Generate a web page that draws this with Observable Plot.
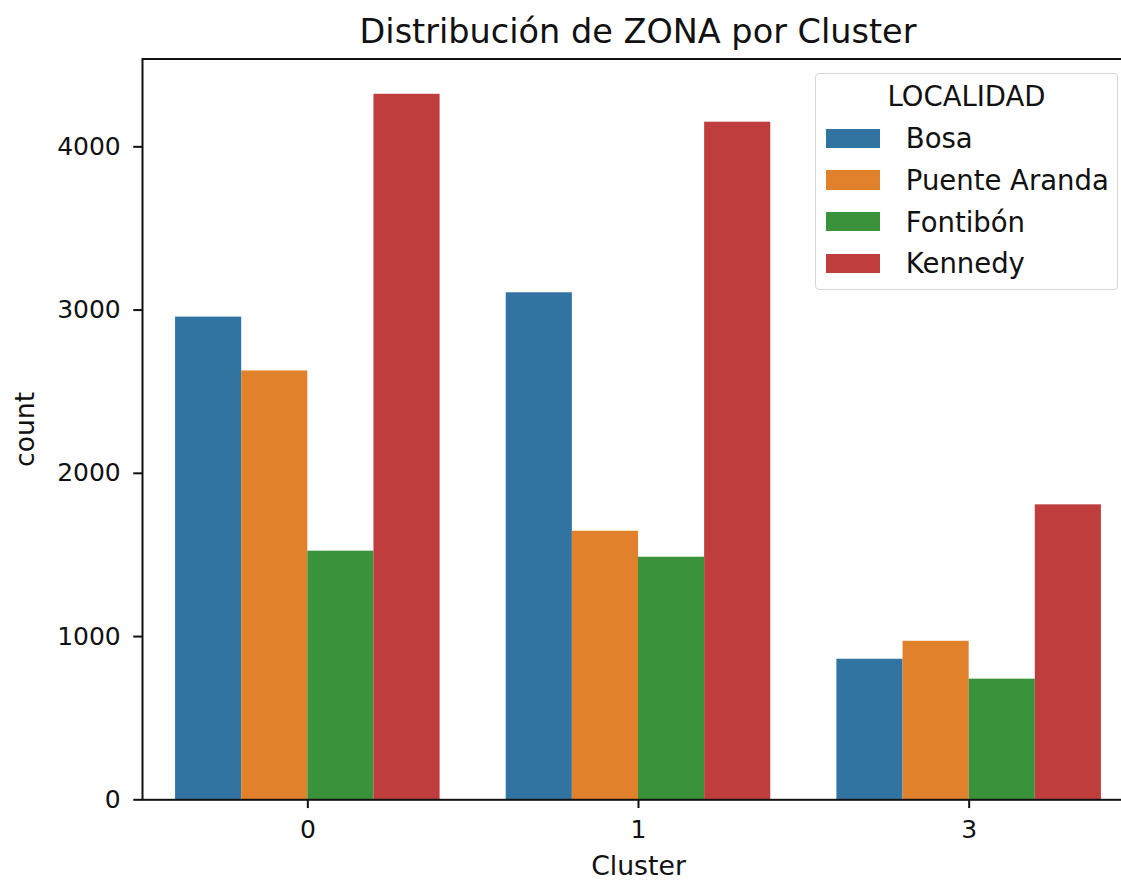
<!DOCTYPE html>
<html>
<head>
<meta charset="utf-8">
<script src="https://cdn.jsdelivr.net/npm/d3@7"></script>
<script src="https://cdn.jsdelivr.net/npm/@observablehq/plot@0.6"></script>
<style>
  html, body { margin: 0; padding: 0; background: #fff; overflow: hidden; }
  #wrap { position: relative; width: 1121px; height: 881px; overflow: hidden; font-family: "DejaVu Sans", sans-serif; color: #111; }
  #wrap svg { overflow: hidden; }
  #wrap g[aria-label="y-axis label"], #wrap g[aria-label="x-axis label"] { font-size: 26.7px; }
  #title { position: absolute; left: 0; top: 14.7px; width: 1276px; text-align: center; font-size: 33.5px; line-height: 33.5px; white-space: nowrap; }
  #legend { position: absolute; left: 815px; top: 72.7px; width: 301px; height: 215px; border: 1.5px solid #d6d6d6; border-radius: 4px; background: rgba(255,255,255,0.85); box-sizing: content-box; }
  #legend .ltitle { margin-top: 2px; height: 41.7px; line-height: 41.7px; text-align: center; font-size: 27.5px; }
  #legend .row { display: flex; align-items: center; height: 41.7px; font-size: 27.5px; white-space: nowrap; }
  #legend .sw { width: 54.3px; height: 19.4px; margin-left: 9.5px; margin-right: 26px; flex: none; }
</style>
</head>
<body>
<div id="wrap"></div>
<script>
// ---- data ----
const title = "Distribución de ZONA por Cluster";
const xLabel = "Cluster";
const yLabel = "count";
const legendTitle = "LOCALIDAD";
const clusters = ["0", "1", "3"];
const localidades = ["Bosa", "Puente Aranda", "Fontibón", "Kennedy"];
const colors = ["#3274a1", "#e1812c", "#3a923a", "#c03d3e"];
const bosa = [2957, 3106, 861];
const puenteAranda = [2627, 1645, 971];
const fontibon = [1523, 1486, 739];
const kennedy = [4322, 4151, 1807];
const yTicks = [0, 1000, 2000, 3000, 4000];

// ---- build table (seaborn-style dodge: groups 0.8 wide, split among hues) ----
const series = [bosa, puenteAranda, fontibon, kennedy];
const groupWidth = 0.8;
const barWidth = groupWidth / localidades.length;
const data = [];
clusters.forEach((c, i) => localidades.forEach((l, k) => data.push({
  Cluster: c, LOCALIDAD: l, count: series[k][i],
  x1: i - groupWidth / 2 + k * barWidth,
  x2: i - groupWidth / 2 + (k + 1) * barWidth
})));
const yMax = d3.max(data, d => d.count) * 1.05;

const wrap = document.getElementById("wrap");

const chart = Plot.plot({
  width: 1121,
  height: 881,
  marginLeft: 142,
  marginRight: -13,
  marginTop: 58.5,
  marginBottom: 81.7,
  style: {fontFamily: "DejaVu Sans", fontSize: "25px", color: "#111", background: "white"},
  x: {domain: [-0.5, clusters.length - 0.5], axis: null},
  y: {domain: [0, yMax], axis: null},
  color: {domain: localidades, range: colors},
  marks: [
    Plot.rectY(data, {x1: "x1", x2: "x2", y: "count", fill: "LOCALIDAD"}),
    Plot.axisY({
      ticks: yTicks, tickSize: 8.75, tickPadding: 13, strokeWidth: 2,
      tickFormat: d => String(d), fontSize: 25,
      label: yLabel, labelAnchor: "center", labelArrow: "none", labelOffset: 127
    }),
    Plot.axisX({
      ticks: d3.range(clusters.length), tickFormat: i => clusters[i],
      anchor: "bottom", tickSize: 8.75, tickPadding: 12, strokeWidth: 2, fontSize: 25,
      label: xLabel, labelAnchor: "center", labelArrow: "none", labelOffset: 75
    }),
    Plot.frame({stroke: "#111", strokeWidth: 2})
  ]
});
wrap.appendChild(chart);

const t = document.createElement("div");
t.id = "title";
t.textContent = title;
wrap.appendChild(t);

const lg = document.createElement("div");
lg.id = "legend";
const lt = document.createElement("div");
lt.className = "ltitle";
lt.textContent = legendTitle;
lg.appendChild(lt);
localidades.forEach((l, k) => {
  const row = document.createElement("div");
  row.className = "row";
  const sw = document.createElement("span");
  sw.className = "sw";
  sw.style.background = colors[k];
  const lab = document.createElement("span");
  lab.textContent = l;
  row.appendChild(sw);
  row.appendChild(lab);
  lg.appendChild(row);
});
wrap.appendChild(lg);
</script>
</body>
</html>
